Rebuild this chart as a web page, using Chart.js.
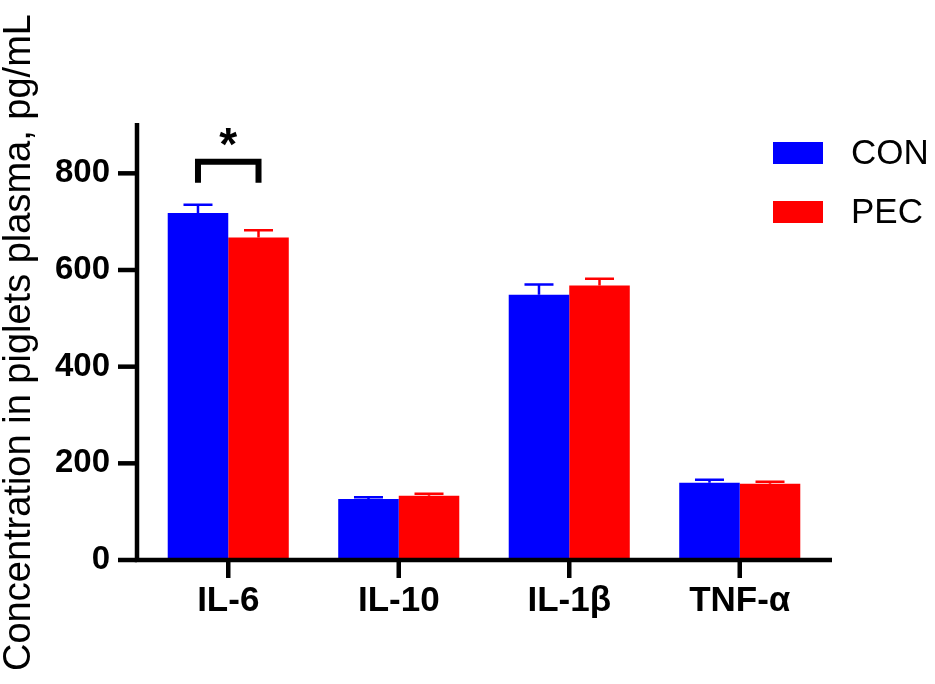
<!DOCTYPE html>
<html>
<head>
<meta charset="utf-8">
<script src="https://cdn.jsdelivr.net/npm/chart.js@4/dist/chart.umd.min.js"></script>
<style>
  html, body { margin: 0; padding: 0; background: #fff; }
  #wrap { width: 935px; height: 684px; }
</style>
</head>
<body>
<div id="wrap"><canvas id="c" width="935" height="684"></canvas></div>
<script>
// ---- data ----
const categories = ['IL-6', 'IL-10', 'IL-1β', 'TNF-α'];
const seriesNames = ['CON', 'PEC'];
const conValues = [718, 126, 549, 160];
const conErrors = [17, 4, 21, 6];
const pecValues = [667, 133, 568, 158];
const pecErrors = [15, 4, 14, 4];
const yTicks = [0, 200, 400, 600, 800];
const yTitle = 'Concentration in piglets plasma, pg/mL';
const significance = { category: 0, label: '*' };

const FONT = "'Liberation Sans', Arial, sans-serif";
const colors = ['#0000ff', '#ff0000'];
const errorsBySeries = [conErrors, pecErrors];

const decorPlugin = {
  id: 'decor',
  afterDatasetsDraw(chart) {
    const ctx = chart.ctx;
    const x = chart.scales.x, y = chart.scales.y;
    const area = chart.chartArea;
    ctx.save();
    // error bars (upper only)
    chart.data.datasets.forEach((ds, di) => {
      const meta = chart.getDatasetMeta(di);
      meta.data.forEach((bar, i) => {
        const v = ds.data[i];
        const e = errorsBySeries[di][i];
        const yTop = y.getPixelForValue(v + e);
        const yBar = y.getPixelForValue(v);
        ctx.strokeStyle = colors[di];
        ctx.lineWidth = 2.5;
        ctx.beginPath();
        ctx.moveTo(bar.x, yBar);
        ctx.lineTo(bar.x, yTop);
        ctx.moveTo(bar.x - 14.5, yTop);
        ctx.lineTo(bar.x + 14.5, yTop);
        ctx.stroke();
      });
    });
    // axes
    ctx.strokeStyle = '#000';
    ctx.lineWidth = 4.5;
    ctx.lineCap = 'butt';
    const axX = area.left - 6;
    const y0 = y.getPixelForValue(0);
    ctx.beginPath();
    ctx.moveTo(axX, y.getPixelForValue(y.max) - 2);
    ctx.lineTo(axX, y0 + 2.25);
    ctx.moveTo(axX - 2.25, y0);
    ctx.lineTo(area.right + 7, y0);
    ctx.stroke();
    // y tick marks
    y.ticks.forEach(t => {
      const py = y.getPixelForValue(t.value);
      ctx.beginPath();
      ctx.moveTo(axX - 19, py);
      ctx.lineTo(axX, py);
      ctx.stroke();
    });
    // x tick marks
    categories.forEach((c, i) => {
      const px = x.getPixelForValue(i);
      ctx.beginPath();
      ctx.moveTo(px, y0);
      ctx.lineTo(px, y0 + 18);
      ctx.stroke();
    });
    // significance bracket
    const k = significance.category;
    const b0 = chart.getDatasetMeta(0).data[k];
    const b1 = chart.getDatasetMeta(1).data[k];
    const topErr = Math.max(conValues[k] + conErrors[k], pecValues[k] + pecErrors[k]);
    const legBottom = y.getPixelForValue(topErr) - 22;
    const barTop = legBottom - 21;
    ctx.lineWidth = 6;
    ctx.lineJoin = 'miter';
    ctx.beginPath();
    ctx.moveTo(b0.x, legBottom);
    ctx.lineTo(b0.x, barTop);
    ctx.lineTo(b1.x, barTop);
    ctx.lineTo(b1.x, legBottom);
    ctx.stroke();
    ctx.fillStyle = '#000';
    ctx.font = 'bold 46px ' + FONT;
    ctx.textAlign = 'center';
    ctx.textBaseline = 'alphabetic';
    ctx.fillText(significance.label, (b0.x + b1.x) / 2, barTop - 2);
    // legend
    ctx.font = '35px ' + FONT;
    ctx.textAlign = 'left';
    ctx.textBaseline = 'middle';
    seriesNames.forEach((n, i) => {
      const bx = 773, by = 142 + i * 59;
      ctx.fillStyle = colors[i];
      ctx.fillRect(bx, by, 50, 22);
      ctx.fillStyle = '#000';
      ctx.fillText(n, 851, by + 12);
    });
    ctx.restore();
  }
};

new Chart(document.getElementById('c'), {
  type: 'bar',
  data: {
    labels: categories,
    datasets: [
      { label: seriesNames[0], data: conValues, backgroundColor: colors[0], borderWidth: 0 },
      { label: seriesNames[1], data: pecValues, backgroundColor: colors[1], borderWidth: 0 }
    ]
  },
  options: {
    responsive: false,
    animation: false,
    devicePixelRatio: 1,
    layout: { padding: { left: 0, top: 125, right: 110, bottom: 0 } },
    plugins: { legend: { display: false }, tooltip: { enabled: false } },
    datasets: { bar: { categoryPercentage: 0.71, barPercentage: 1.0 } },
    scales: {
      x: {
        grid: { display: false, drawTicks: false, tickLength: 0 },
        border: { display: false },
        ticks: { color: '#000', font: { family: FONT, size: 35, weight: 'bold' }, padding: 20, maxRotation: 0 },
        afterFit(s) { s.height = 124; }
      },
      y: {
        min: 0, max: 900,
        grid: { display: false, drawTicks: false, tickLength: 0 },
        border: { display: false },
        ticks: { color: '#000', font: { family: FONT, size: 33, weight: 'bold' }, padding: 33, stepSize: 200 },
        afterBuildTicks(s) { s.ticks = yTicks.map(v => ({ value: v })); },
        title: { display: true, text: yTitle, color: '#000', font: { family: FONT, size: 38, weight: 'normal', lineHeight: 1 }, padding: { top: 1, bottom: 0 } },
        afterFit(s) { s.width = 143; }
      }
    }
  },
  plugins: [decorPlugin]
});
</script>
</body>
</html>
